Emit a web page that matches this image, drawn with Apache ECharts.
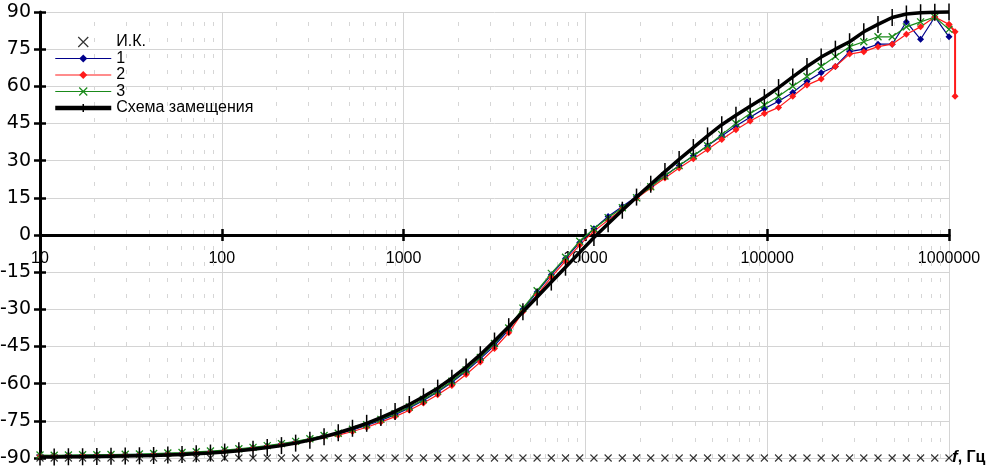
<!DOCTYPE html>
<html><head><meta charset="utf-8">
<script src="https://cdn.jsdelivr.net/npm/echarts@6/dist/echarts.min.js"></script>
<style>html,body{margin:0;padding:0;background:#fff}#c{width:989px;height:469px}</style>
</head><body><div id="c"></div>
<script>
const freqs = [10, 11.97, 14.33, 17.15, 20.54, 24.58, 29.43, 35.23, 42.17, 50.48, 60.43, 72.34, 86.6,
  103.7, 124.1, 148.5, 177.8, 212.9, 254.8, 305.1, 365.2, 437.1, 523.3, 626.4, 749.9, 897.7,
  1075, 1286, 1540, 1843, 2207, 2642, 3162, 3786, 4532, 5425, 6494, 7774, 9306,
  11140, 13335, 15963, 19110, 22876, 27384, 32781, 39242, 46977, 56234, 67318, 80585, 96466,
  115478, 138240, 165487, 198104, 237137, 283877, 339828, 406808, 486968, 582952, 697830, 835363, 1000000];
const ikValues = [-90,-90,-90,-90,-90,-90,-90,-90,-90,-90,-90,-90,-90,
  -90,-90,-90,-90,-90,-90,-90,-90,-90,-90,-90,-90,-90,
  -90,-90,-90,-90,-90,-90,-90,-90,-90,-90,-90,-90,-90,
  -90,-90,-90,-90,-90,-90,-90,-90,-90,-90,-90,-90,-90,
  -90,-90,-90,-90,-90,-90,-90,-90,-90,-90,-90,-90,-90];
const s1Values = [-89.0,-89.1,-88.9,-88.9,-88.8,-88.8,-88.6,-88.5,-88.4,-88.2,-88.0,-87.7,-87.4,
  -87.0,-86.5,-85.9,-85.2,-84.4,-83.5,-82.4,-81.0,-80.3,-78.7,-76.9,-74.8,-72.5,
  -69.8,-66.8,-63.4,-59.4,-55.0,-50.0,-44.6,-38.3,-30.0,-23.0,-16.0,-9.5,-3.0,
  2.5,7.5,11.5,15.5,19.8,24.0,28.0,32.0,36.0,40.0,44.0,47.5,51.0,
  54.0,57.5,62.0,65.5,68.0,74,75,77,77,86,79,88,80];
const s2Values = [-89.2,-89.2,-89.1,-89.0,-89.0,-88.9,-88.8,-88.7,-88.6,-88.4,-88.2,-87.9,-87.6,
  -87.2,-86.7,-86.1,-85.4,-84.6,-83.7,-82.6,-81.3,-80.8,-79.3,-77.6,-75.5,-73.3,
  -70.7,-67.8,-64.5,-60.7,-56.3,-51.3,-45.8,-39.5,-31.0,-24.2,-17.0,-10.5,-4.0,
  1.5,6.0,10.5,14.8,19.0,23.0,27.0,30.8,34.5,38.5,42.5,46.0,49.0,
  51.5,56.0,60.5,63.0,68.0,73,74,76,77,81,84,88,85];
const s2TailFreqs = [1000000, 1080000, 1080000];
const s2TailValues = [85, 82, 56];
const s3Values = [-88.8,-88.9,-88.8,-88.7,-88.7,-88.6,-88.5,-88.4,-88.2,-88.0,-87.8,-87.5,-87.2,
  -86.8,-86.3,-85.7,-85.0,-84.2,-83.3,-82.2,-80.9,-80.0,-78.4,-76.6,-74.4,-72.1,
  -69.4,-66.4,-63.0,-59.0,-54.5,-49.4,-43.8,-37.5,-29.5,-22.5,-15.5,-9.0,-2.5,
  2.5,7.0,11.0,15.0,19.5,23.8,28.0,32.0,36.0,40.5,45.0,49.0,52.5,
  56.0,60.0,64.0,68.0,72.0,76,78,80,80,84,86,88,83];
const schemeValues = [-89.6,-89.6,-89.5,-89.5,-89.4,-89.3,-89.2,-89.1,-89.0,-88.8,-88.6,-88.3,-88.0,
  -87.6,-87.1,-86.5,-85.8,-85.0,-84.0,-82.8,-81.4,-79.8,-78.0,-76.0,-73.7,-71.2,
  -68.4,-65.3,-61.8,-57.8,-53.3,-48.3,-42.8,-37.0,-31.0,-25.0,-19.0,-13.0,-7.0,
  -1.0,4.5,10.0,15.3,20.5,25.6,30.5,35.3,40.0,44.5,48.3,52.0,55.5,
  59.5,63.8,68.0,71.8,75.0,78.0,82.0,85.0,87.8,89.2,89.7,89.9,90.0];

const seriesNames = ['И.К.', '1', '2', '3', 'Схема замещения'];
const yTicks = {min: -90, max: 90, step: 15};
const xRange = {min: 10, max: 1000000};

const FONT = '"Liberation Sans", Arial, sans-serif';
const pair = (xs, ys) => xs.map((x, i) => [x, ys[i]]);
const minorLines = [];
for (let d = 10; d < xRange.max; d *= 10) for (let m = 2; m <= 9; m++) minorLines.push({xAxis: m * d});

const X_PATH = 'path://M0,0L10,10M0,10L10,0';
const BAR_PATH = 'path://M0,0L0,0M5,0L5,10M10,10L10,10';

const chart = echarts.init(document.getElementById('c'));
chart.setOption({
  animation: false,
  backgroundColor: '#fff',
  grid: {left: 40, right: 40, top: 12, bottom: 11, containLabel: false, outerBoundsMode: 'none'},
  legend: {
    orient: 'vertical', left: 48, top: 29, itemWidth: 56, itemHeight: 10, itemGap: 0.5,
    textStyle: {fontSize: 16, lineHeight: 16, color: '#000', fontFamily: FONT},
    data: [
      {name: seriesNames[0], itemStyle: {borderColor: '#000', borderWidth: 1.2}},
      {name: seriesNames[1], lineStyle: {width: 1.2}},
      {name: seriesNames[2], lineStyle: {width: 1.2}},
      {name: seriesNames[3], lineStyle: {width: 1.2}, itemStyle: {borderColor: '#1a8a1a', borderWidth: 1.2}},
      {name: seriesNames[4], lineStyle: {width: 4.5}, itemStyle: {borderColor: '#000', borderWidth: 1.5}}
    ]
  },
  xAxis: [{
    type: 'log', logBase: 10, min: xRange.min, max: xRange.max, position: 'bottom',
    axisLine: {onZero: true, onZeroAxisIndex: 0, lineStyle: {color: '#000', width: 3}},
    axisTick: {show: true, length: 6, lineStyle: {color: '#000', width: 2.5}},
    axisLabel: {show: false},
    splitLine: {show: true, lineStyle: {color: '#d4d4d4', width: 1}}
  }, {
    type: 'log', logBase: 10, min: xRange.min, max: xRange.max, position: 'bottom',
    axisLine: {show: false, onZero: true, onZeroAxisIndex: 0},
    axisTick: {show: true, inside: true, length: 6, lineStyle: {color: '#000', width: 2.5}},
    axisLabel: {show: false},
    splitLine: {show: false}
  }, {
    type: 'log', logBase: 10, min: xRange.min, max: xRange.max, position: 'bottom',
    axisLine: {show: false, onZero: false},
    axisTick: {show: false},
    axisLabel: {show: true, margin: -207, fontSize: 16, color: '#000', fontFamily: FONT,
      formatter: v => String(Math.round(v)), hideOverlap: false, showMinLabel: true, showMaxLabel: true},
    splitLine: {show: false}
  }],
  yAxis: [{
    type: 'value', min: yTicks.min, max: yTicks.max, interval: yTicks.step, position: 'left',
    axisLine: {show: true, onZero: false, lineStyle: {color: '#000', width: 3}},
    axisTick: {show: true, length: 6, lineStyle: {color: '#000', width: 2.5}},
    axisLabel: {margin: 9, fontSize: 19, color: '#000', fontFamily: '"DejaVu Sans", sans-serif'},
    splitLine: {show: true, lineStyle: {color: '#d4d4d4', width: 1}}
  }, {
    type: 'value', min: yTicks.min, max: yTicks.max, interval: yTicks.step, position: 'left', offset: 0,
    axisLine: {show: false, onZero: false},
    axisTick: {show: true, inside: true, length: 6, lineStyle: {color: '#000', width: 2.5}},
    axisLabel: {show: false}, splitLine: {show: false}
  }],
  graphic: [{
    type: 'text', left: 952, top: 449, z: 100,
    style: {
      text: '{i|f}, Гц', fill: '#000', font: 'bold 16px ' + FONT,
      rich: {i: {fontStyle: 'italic', fontWeight: 'bold', fontSize: 17, fontFamily: FONT}}
    }
  }],
  series: [{
    name: seriesNames[0], type: 'scatter', clip: false, z: 3,
    symbol: X_PATH, symbolSize: 7,
    itemStyle: {color: '#000', borderColor: '#000', borderWidth: 1.1},
    data: pair(freqs, ikValues),
    markLine: {
      silent: true, symbol: 'none', label: {show: false}, z: 1,
      lineStyle: {color: '#d6d6d6', type: [4, 12], width: 1},
      emphasis: {disabled: true},
      data: minorLines
    }
  }, {
    name: seriesNames[1], type: 'line', clip: false, z: 4,
    symbol: 'diamond', symbolSize: 7, showAllSymbol: true,
    lineStyle: {color: '#00008b', width: 1.2}, itemStyle: {color: '#00008b'},
    data: pair(freqs, s1Values)
  }, {
    name: seriesNames[2], type: 'line', clip: false, z: 4,
    symbol: 'diamond', symbolSize: 7, showAllSymbol: true,
    lineStyle: {color: '#ff1a1a', width: 1.2}, itemStyle: {color: '#ff1a1a'},
    data: pair(freqs, s2Values)
  }, {
    type: 'custom', z: 4, clip: false, silent: true,
    data: pair(s2TailFreqs, s2TailValues),
    renderItem: (params, api) => {
      if (params.dataIndex !== 0) return null;
      const pts = s2TailFreqs.map((f, i) => api.coord([f, s2TailValues[i]]));
      return {type: 'polyline', shape: {points: pts}, style: {stroke: '#ff1a1a', lineWidth: 2, fill: null}};
    }
  }, {
    name: seriesNames[2], type: 'line', clip: false, z: 4,
    symbol: 'diamond', symbolSize: 7, showAllSymbol: true,
    lineStyle: {width: 0}, itemStyle: {color: '#ff1a1a'},
    data: pair(s2TailFreqs, s2TailValues)
  }, {
    name: seriesNames[3], type: 'line', clip: false, z: 4,
    symbol: X_PATH, symbolSize: 7, showAllSymbol: true,
    lineStyle: {color: '#1a8a1a', width: 1.2}, itemStyle: {color: '#1a8a1a', borderColor: '#1a8a1a', borderWidth: 1.3},
    data: pair(freqs, s3Values)
  }, {
    name: seriesNames[4], type: 'line', clip: false, z: 5,
    symbol: BAR_PATH, symbolSize: 17, showAllSymbol: true,
    lineStyle: {color: '#000', width: 3.5}, itemStyle: {color: '#000', borderColor: '#000', borderWidth: 1.5},
    data: pair(freqs, schemeValues)
  }]
});
</script>
</body></html>
